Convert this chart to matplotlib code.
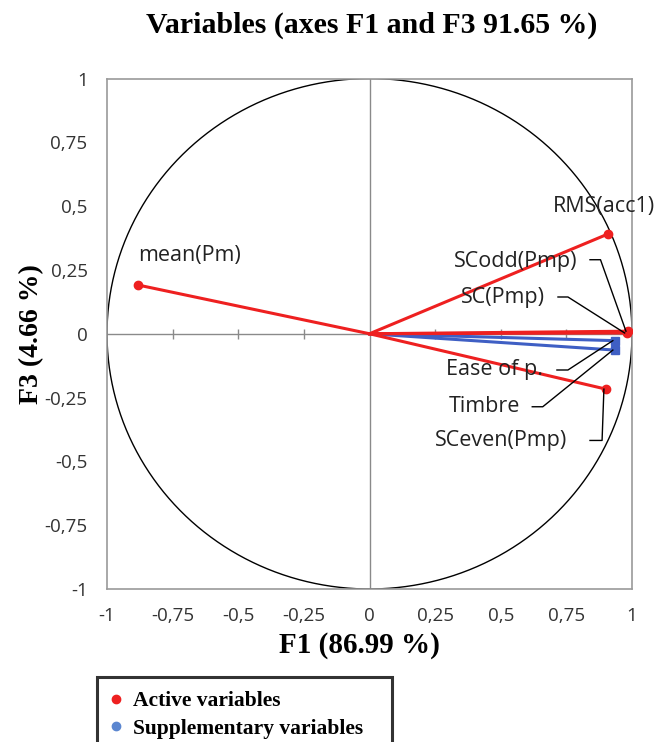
import matplotlib.pyplot as plt
import numpy as np

# correlation circle data (F1, F3)
active_names = ["mean(Pm)", "RMS(acc1)", "SCodd(Pmp)", "SC(Pmp)", "SCeven(Pmp)"]
active_f1 = [-0.882, 0.909, 0.985, 0.980, 0.901]
active_f3 = [0.191, 0.391, 0.010, 0.003, -0.217]

supp_names = ["Ease of p.", "Timbre"]
supp_f1 = [0.935, 0.935]
supp_f3 = [-0.027, -0.064]

tick_vals = [-1, -0.75, -0.5, -0.25, 0, 0.25, 0.5, 0.75, 1]
tick_labels = ["-1", "-0,75", "-0,5", "-0,25", "0", "0,25", "0,5", "0,75", "1"]
ytick_labels = ["-1", "-0,75", "-0,5", "-0,25", "0", "0,25", "0,5", "0,75", "1"]

red = "#ee2020"
blue = "#3f5fc4"
serif = "Liberation Serif"
sans = "Open Sans"

fig = plt.figure(figsize=(6.63, 7.42), dpi=100)
ax = fig.add_axes([107 / 663, 1 - 589 / 742, 525 / 663, 510.5 / 742])

# unit circle
t = np.linspace(0, 2 * np.pi, 400)
ax.plot(np.cos(t), np.sin(t), color="black", lw=1.0, zorder=2)

# centre axes with small ticks on the horizontal one
ax.axhline(0, color="#8a8a8a", lw=1.0, zorder=1)
ax.axvline(0, color="#8a8a8a", lw=1.0, zorder=1)
inner = [v for v in tick_vals if v not in (-1, 0, 1)]
ax.plot(inner, [0] * len(inner), ls="none", marker="|", ms=7, mew=1, color="#8a8a8a", zorder=1)

# vectors
for x, y in zip(supp_f1, supp_f3):
    ax.plot([0, x], [0, y], color=blue, lw=2.2, zorder=3)
ax.plot(supp_f1, supp_f3, ls="none", marker="s", ms=6, color=blue, zorder=4)
for x, y in zip(active_f1, active_f3):
    ax.plot([0, x], [0, y], color=red, lw=2.2, zorder=4)
ax.plot(active_f1, active_f3, ls="none", marker="o", ms=6, color=red, zorder=5)

# labels: (text x, text y, ha, leader line or None)
label_pos = {
    "mean(Pm)": (-0.882, 0.307, "left", None),
    "RMS(acc1)": (0.70, 0.50, "left", None),
    "SCodd(Pmp)": (0.794, 0.285, "right", [(0.84, 0.29), (0.88, 0.29)]),
    "SC(Pmp)": (0.669, 0.142, "right", [(0.718, 0.144), (0.756, 0.144)]),
    "Ease of p.": (0.661, -0.142, "right", [(0.714, -0.142), (0.756, -0.142)]),
    "Timbre": (0.573, -0.284, "right", [(0.62, -0.286), (0.66, -0.286)]),
    "SCeven(Pmp)": (0.752, -0.418, "right", [(0.84, -0.418), (0.886, -0.418)]),
}
all_names = active_names + supp_names
all_x = active_f1 + supp_f1
all_y = active_f3 + supp_f3
for name, px, py in zip(all_names, all_x, all_y):
    tx, ty, ha, lead = label_pos[name]
    ax.text(tx, ty, name, ha=ha, va="center", fontsize=15.5, family=sans,
            color="#222222", zorder=6)
    if lead is not None:
        xs = [lead[0][0], lead[1][0], px - 0.008]
        ys = [lead[0][1], lead[1][1], py]
        ax.plot(xs, ys, color="black", lw=1.0, zorder=6)

ax.set_xlim(-1, 1)
ax.set_ylim(-1, 1)
ax.set_xticks(tick_vals)
ax.set_xticklabels(tick_labels)
ax.set_yticks(tick_vals)
ax.set_yticklabels(ytick_labels)
ax.tick_params(length=0, labelsize=13.5, colors="#333333")
ax.tick_params(axis="x", pad=13)
ax.tick_params(axis="y", pad=14)
for lbl in ax.get_xticklabels() + ax.get_yticklabels():
    lbl.set_family(sans)
for s in ax.spines.values():
    s.set_color("#9a9a9a")
    s.set_linewidth(1.2)

ax.set_xlabel("F1 (86.99 %)", fontsize=21, fontweight="bold", family=serif, labelpad=5)
ax.xaxis.set_label_coords(0.48, -0.084)
ax.set_ylabel("F3 (4.66 %)", fontsize=20, fontweight="bold", family=serif, labelpad=0)
fig.text(372 / 663, 1 - 25 / 742, "Variables (axes F1 and F3 91.65 %)", ha="center", va="center",
         fontsize=21.5, fontweight="bold", family=serif)

# legend
h1 = plt.Line2D([], [], ls="none", marker="o", ms=6, color=red)
h2 = plt.Line2D([], [], ls="none", marker="o", ms=6, color="#5b86d0")
leg = fig.legend([h1, h2], ["Active variables", "Supplementary variables"],
                 loc="upper left", bbox_to_anchor=(97 / 663, 0, 295 / 663, 1 - 677 / 742),
                 mode="expand", borderaxespad=0, fancybox=False, handlelength=0.5,
                 handletextpad=0.5, labelspacing=0.35, borderpad=0.65,
                 prop={"family": serif, "weight": "bold", "size": 15.5})
leg.get_frame().set_edgecolor("black")
leg.get_frame().set_linewidth(2.2)

fig.savefig("out.png", dpi=100)
